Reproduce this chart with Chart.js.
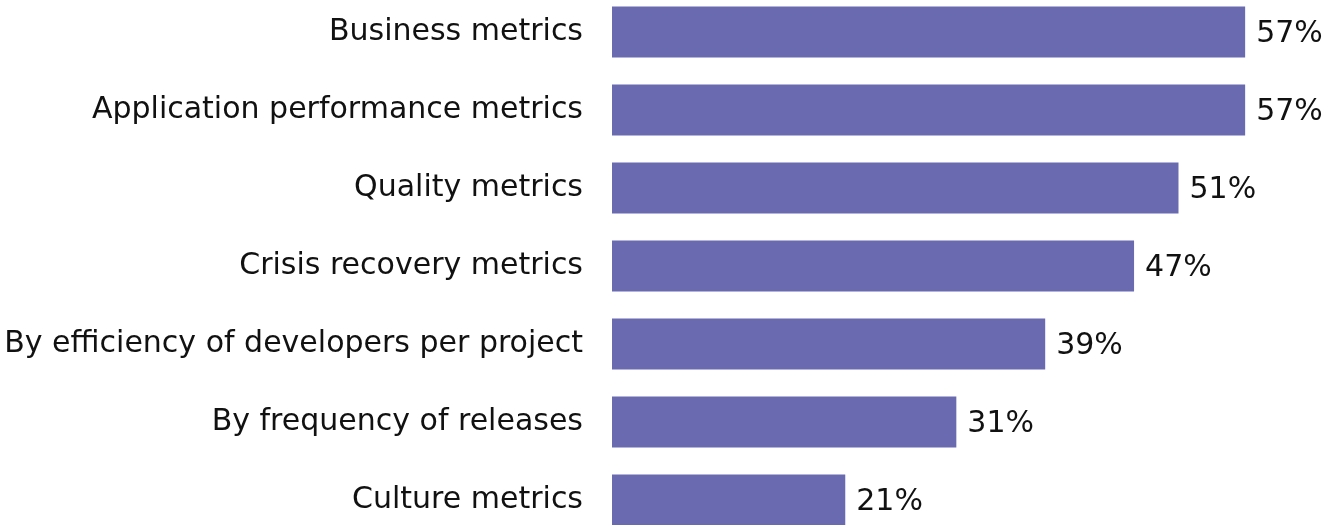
<!DOCTYPE html>
<html>
<head>
<meta charset="utf-8">
<script src="https://cdn.jsdelivr.net/npm/chart.js@4"></script>
<style>
  html, body { margin: 0; padding: 0; background: #fff; overflow: hidden; }
  #myChart { position: absolute; left: 0; top: -7px; }
</style>
</head>
<body>
<canvas id="myChart" width="1334" height="546"></canvas>
<script>
/******************** Metrics bar chart ********************/

var labels = ["Business metrics", "Application performance metrics", "Quality metrics",
  "Crisis recovery metrics", "By efficiency of developers per project",
  "By frequency of releases", "Culture metrics"];
var values = [57, 57, 51, 47, 39, 31, 21];
var barColor = "#6a6ab0";
var fontFamily = "'DejaVu Sans', sans-serif";

// draws "57%" etc. right of each bar
var valueLabels = {
  id: "valueLabels",
  afterDatasetsDraw: function(chart) {
    var ctx = chart.ctx;
    var meta = chart.getDatasetMeta(0);
    ctx.save();
    ctx.font = "30px " + fontFamily;
    ctx.fillStyle = "#111";
    ctx.textAlign = "left";
    ctx.textBaseline = "middle";
    meta.data.forEach(function(bar, i) {
      ctx.fillText(values[i] + "%", bar.x + 11, bar.y + 2);
    });
    ctx.restore();
  }
};

new Chart("myChart", {
  type: "bar",
  data: {
    labels: labels,
    datasets: [{
      backgroundColor: barColor,
      data: values,
      categoryPercentage: 0.654,
      barPercentage: 1
    }]
  },
  plugins: [valueLabels],
  options: {
    indexAxis: "y",
    responsive: false,
    animation: false,
    layout: {padding: 0},
    plugins: {
      legend: {display: false},
      tooltip: {enabled: false}
    },
    scales: {
      x: {
        display: false,
        min: 0,
        max: 65
      },
      y: {
        offset: true,
        grid: {display: false, drawTicks: false},
        border: {display: false},
        afterFit: function(scale) {
          scale.width = 612;
          scale.paddingTop = 0;
          scale.paddingBottom = 0;
        },
        ticks: {
          padding: 29,
          color: "#111",
          font: {size: 30, family: fontFamily}
        }
      }
    }
  }
});
</script>
</body>
</html>
